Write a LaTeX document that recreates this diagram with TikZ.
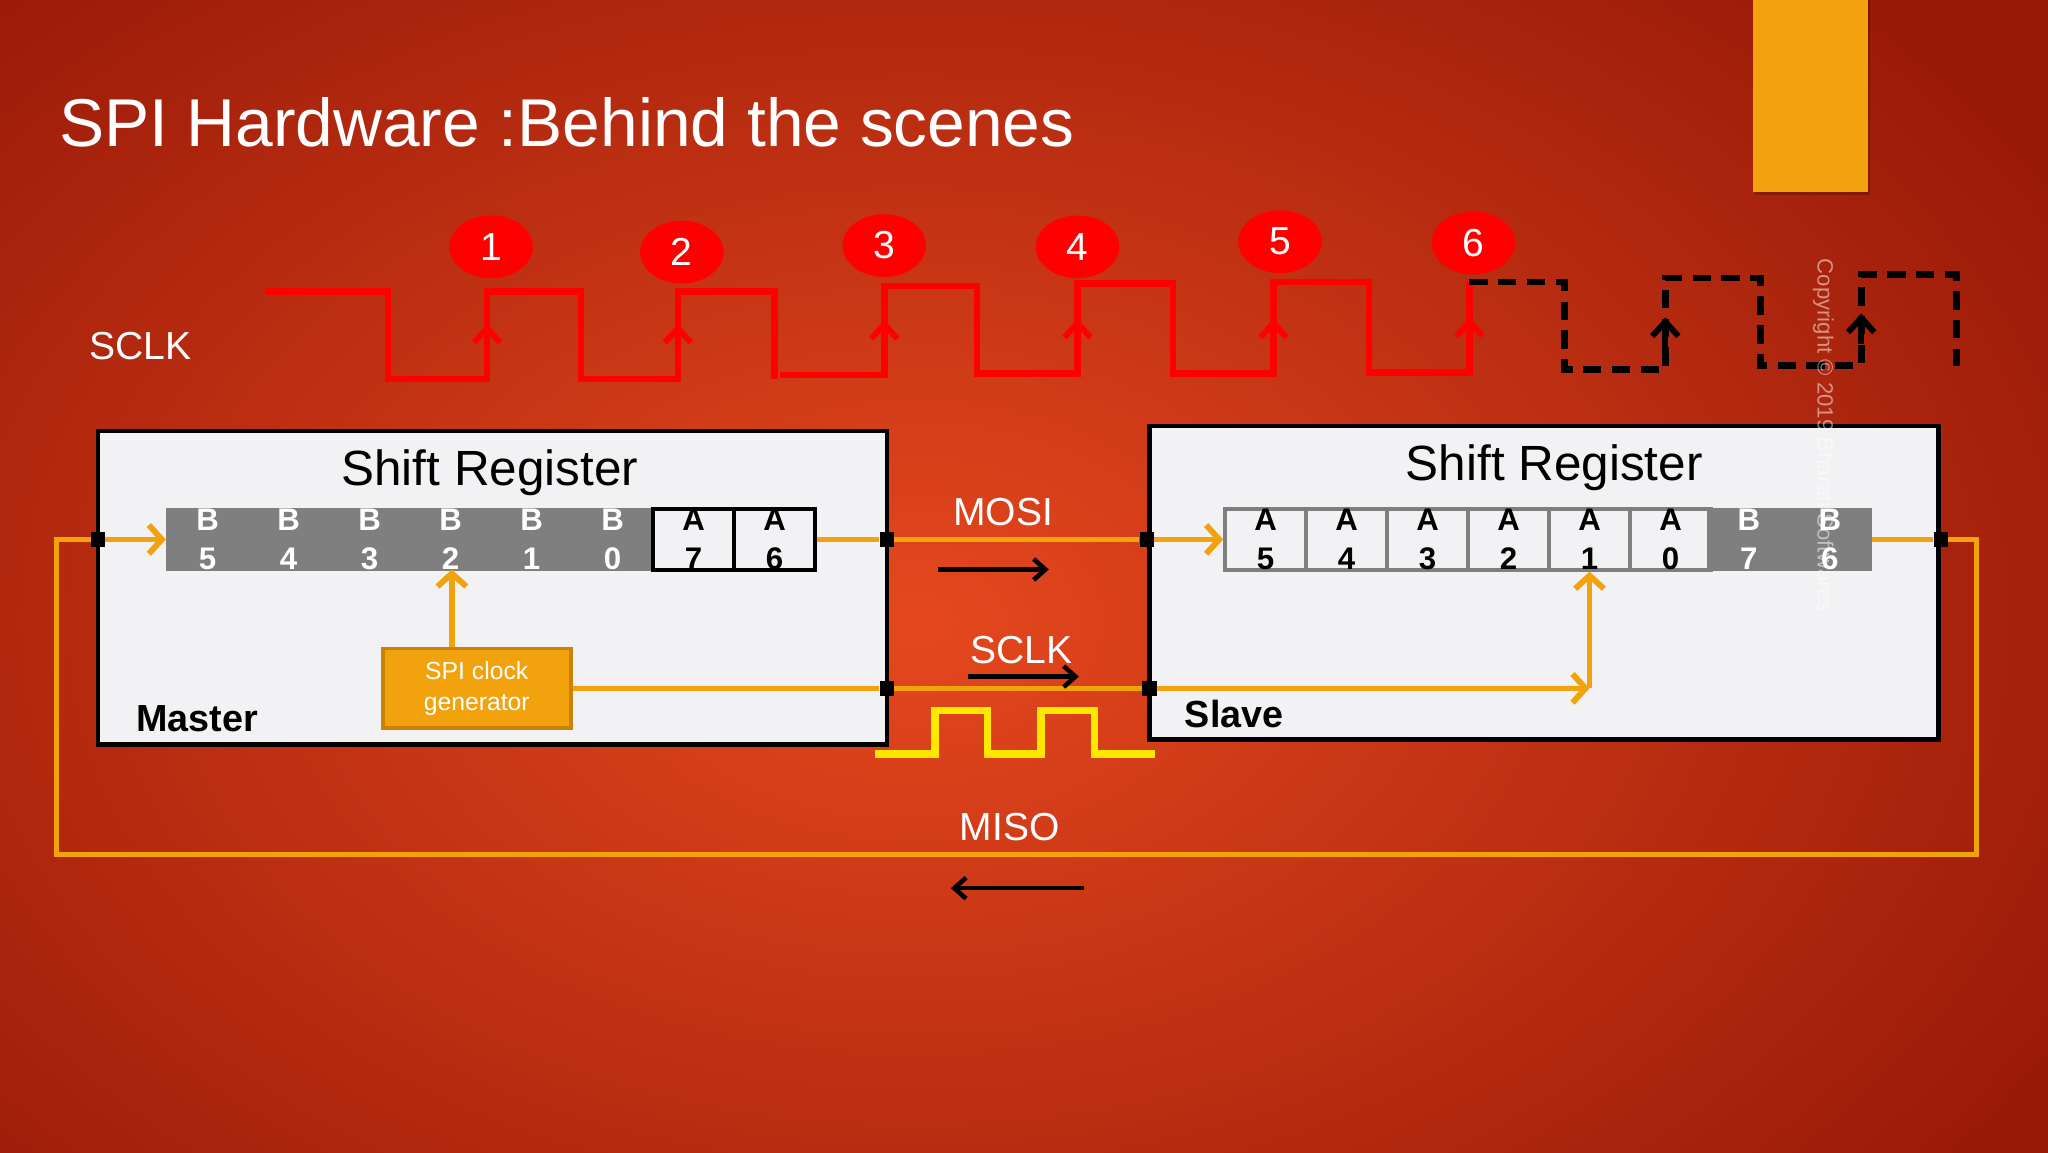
\documentclass[tikz,border=0pt]{standalone}
\usepackage{fontspec}
\setmainfont{Liberation Sans}
\usetikzlibrary{arrows.meta,shapes.geometric}
\definecolor{bgin}{HTML}{E5481E}
\definecolor{bgout}{HTML}{9A1A08}
\definecolor{boxfill}{HTML}{F2F2F4}
\definecolor{org}{HTML}{F2A20C}
\definecolor{orgdark}{HTML}{C98206}
\definecolor{sigred}{HTML}{FF0000}
\definecolor{cellgray}{HTML}{7F7F7F}
\definecolor{pulse}{HTML}{FFE800}
\begin{document}
\begin{tikzpicture}[x=1bp,y=-1bp,
  fs/.style={font=\fontsize{#1}{#1}\selectfont},
  wt/.style={text=white,inner sep=0},
  sig/.style={sigred,line width=5bp},
  dsig/.style={black,line width=5bp,dash pattern=on 14bp off 8bp},
  oline/.style={org,line width=4bp},
  oarr/.style={oline,-{Straight Barb[length=10bp,width=22bp,line width=4.5bp]}},
  rarr/.style={sigred,line width=5bp,-{Straight Barb[length=11bp,width=20bp,line width=4.5bp]}},
  barr/.style={black,line width=3.5bp,-{Straight Barb[length=9bp,width=16bp,line width=3.5bp]}},
  dot/.style={fill=black,minimum size=11bp,inner sep=0},
  num/.style={ellipse,fill=sigred,minimum width=64bp,minimum height=48bp,inner sep=0,text=white,fs=30},
  bcell/.style={fill=cellgray,draw=cellgray,line width=2bp,minimum width=62bp,minimum height=38bp,inner sep=0,text=white,align=center,font=\bfseries\fontsize{24}{30}\selectfont},
  acell/.style={fill=boxfill,draw=black,line width=3bp,minimum width=62bp,minimum height=38bp,inner sep=0,text=black,align=center,font=\bfseries\fontsize{24}{30}\selectfont},
  sacell/.style={acell,draw=cellgray},
  box/.style={fill=boxfill,draw=black,line width=3.5bp}]
\useasboundingbox (0,0) rectangle (1568,882);
\shade[inner color=bgin,outer color=bgout] (-300,-200) rectangle (1700,1150);
% top-right orange block
\fill[black,opacity=0.2] (1344,0) rectangle (1432,149);
\fill[org] (1342,0) rectangle (1430,147);
\node[wt,fs=52,anchor=base west] (title) at (45,112) {SPI Hardware :Behind the scenes};
\node[wt,fs=30,anchor=base west] (sclkl) at (68,275) {SCLK};
% red clock
\draw[sig,line join=miter] (203,223) -- (297,223) -- (297,290) -- (373,290) -- (373,223) -- (445,223) -- (445,290) -- (519,290) -- (519,223) -- (593,223) -- (593,290);
\draw[sig,line join=miter] (597,287) -- (677,287) -- (677,219) -- (748,219) -- (748,286) -- (825,286) -- (825,217) -- (898,217) -- (898,286) -- (975,286) -- (975,216) -- (1048,216) -- (1048,285) -- (1125,285) -- (1125,216);
\foreach \x/\yl in {373/290,519/290,677/287,825/286,975/286,1125/285}
  \draw[rarr] (\x,\yl-10) -- (\x,\yl-42);
\draw[dsig] (1125,216) -- (1198,216) -- (1198,283) -- (1275,283) -- (1275,213) -- (1348,213) -- (1348,280) -- (1425,280) -- (1425,210) -- (1498,210) -- (1498,280);
\draw[black,line width=4.5bp,-{Straight Barb[length=11bp,width=20bp,line width=4.5bp]}] (1275,266) -- (1275,243);
\draw[black,line width=4.5bp,-{Straight Barb[length=11bp,width=20bp,line width=4.5bp]}] (1425,263) -- (1425,240);
\foreach \n/\x/\y in {1/376/189,2/522/193,3/677/188,4/825/189,5/980/185,6/1128/186}
  \node[num] (c\n) at (\x,\y) {\n};
% Master box
\draw[box] (75,330) rectangle (679,570);
\node[fs=38,inner sep=0] (msr) at (375,362) {Shift Register};
\foreach \i/\d in {0/5,1/4,2/3,3/2,4/1,5/0}
  \node[bcell] (mb\d) at (159+62*\i,413) {B\\\d};
\node[acell] (ma7) at (531,413) {A\\7};
\node[acell] (ma6) at (593,413) {A\\6};
\node[font=\bfseries\fontsize{29}{29}\selectfont,anchor=base west,inner sep=0] (master) at (104,560) {Master};
\node[fill=org,draw=orgdark,line width=3bp,minimum width=144bp,minimum height=61bp,text=white,align=center,font=\fontsize{19}{24}\selectfont] (gen) at (365,527) {SPI clock\\generator};
\draw[oarr] (gen.north -| 346,0) -- (346,436);
% Slave box
\draw[box] (880,326) rectangle (1484,566);
\node[fs=38,inner sep=0] (ssr) at (1190,358) {Shift Register};
\foreach \i/\d in {0/5,1/4,2/3,3/2,4/1,5/0}
  \node[sacell] (sa\d) at (969+62*\i,413) {A\\\d};
\node[bcell] (sb7) at (1339,413) {B\\7};
\node[bcell] (sb6) at (1401,413) {B\\6};
\node[font=\bfseries\fontsize{29}{29}\selectfont,anchor=base west,inner sep=0] (slave) at (907,557) {Slave};
% junction dots
\node[dot] (j1) at (75,413) {};
\node[dot] (j2) at (679,413) {};
\node[dot] (j3) at (679,527) {};
\node[dot] (j4) at (880,527) {};
\node[dot] (j5) at (878,413) {};
\node[dot] (j6) at (1486,413) {};
\coordinate (k1) at (1217,527);
\coordinate (m1) at (1513,413);
\coordinate (m2) at (1513,654);
\coordinate (m3) at (43,654);
\coordinate (m4) at (43,413);
% orange wiring
\draw[oline] (ma6.east) -- (j2) -- (j5);
\draw[oarr] (j5) -- (sa5.west);
\draw[oline] (gen.east |- j3) -- (j3) -- (j4);
\draw[oarr] (j4) -- (k1);
\draw[oarr] (k1) -- (sa1.south);
\draw[oline] (sb6.east) -- (j6) -- (m1) -- (m2) -- (m3) -- (m4) -- (j1);
\draw[oarr] (j1) -- (mb5.west);
% labels and arrows between
\node[wt,fs=30] (mosi) at (768,392) {MOSI};
\coordinate (a1) at (718,436); \coordinate (a2) at (803,436);
\draw[barr] (a1) -- (a2);
\node[wt,fs=30] (sclk2) at (782,498) {SCLK};
\coordinate (b1) at (741,518); \coordinate (b2) at (826,518);
\draw[barr] (b1) -- (b2);
\node[wt,fs=30] (miso) at (773,633) {MISO};
\coordinate (d1) at (830,680); \coordinate (d2) at (728,680);
\draw[barr] (d1) -- (d2);
% yellow pulses
\draw[pulse,line width=6bp] (670,577) -- (716,577) -- (716,544) -- (756,544) -- (756,577) -- (797,577) -- (797,544) -- (838,544) -- (838,577) -- (884,577);
% copyright (on top)
\node[text=white,opacity=0.5,fs=17,rotate=-90,anchor=north west,inner sep=0] (copy) at (1404,198) {Copyright © 2019 Bharati Softwares};
\end{tikzpicture}
\end{document}
